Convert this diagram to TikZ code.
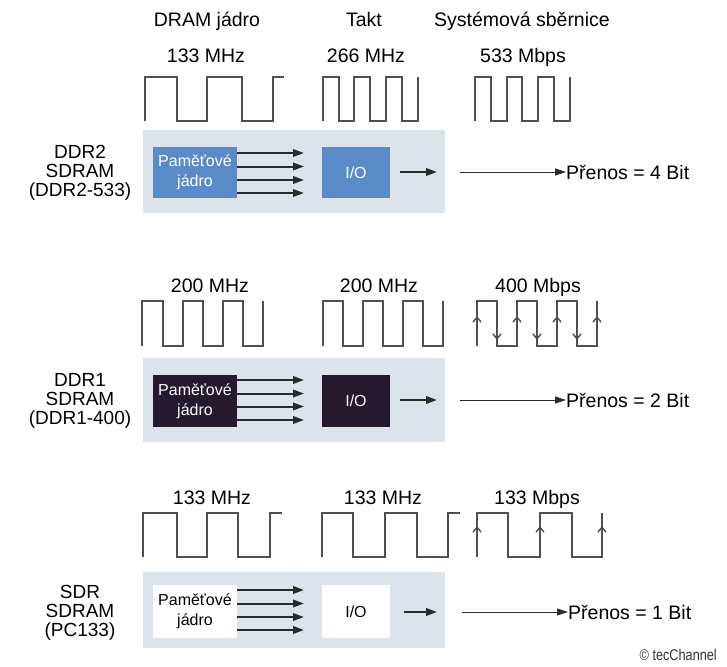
\documentclass[tikz,border=0pt]{standalone}
\usepackage{fontspec}
\setmainfont{Liberation Sans}
\usepackage{graphicx}
\usetikzlibrary{arrows.meta}
\definecolor{boxgray}{HTML}{DDE3EA}
\definecolor{coreblue}{HTML}{5B8BC7}
\definecolor{coredark}{HTML}{24192F}
\definecolor{wavegray}{HTML}{505050}
\definecolor{arrowdark}{HTML}{2A2A2A}
\begin{document}
\begin{tikzpicture}[x=1pt,y=-1pt,
  lbl/.style={font=\fontsize{19.5}{19}\selectfont, inner sep=0pt, text height=14pt, text depth=0pt},
  side/.style={font=\fontsize{19}{19}\selectfont, align=center, inner sep=0pt},
  panel/.style={fill=boxgray, draw=none, inner sep=0pt, minimum width=302pt},
  corebox/.style={draw=none, inner sep=0pt, minimum width=84pt, font=\fontsize{16}{20}\selectfont, align=center},
  iobox/.style={draw=none, inner sep=0pt, minimum width=68pt, font=\fontsize{16}{19}\selectfont},
  wave/.style={draw=wavegray, line width=2.4pt, line join=miter},
  edgearrow/.style={draw=wavegray, line width=1.4pt, -{Straight Barb[length=5pt,width=8pt,line width=1.4pt]}},
  bus/.style={draw=arrowdark, line width=2pt, -{Triangle[length=11pt,width=7.5pt]}},
  longbus/.style={draw=arrowdark, line width=0.9pt, -{Triangle[length=11pt,width=7pt]}},
  copy/.style={font=\fontsize{15.5}{15}\selectfont, inner sep=0pt, text=black!80}
]
\useasboundingbox[fill=white] (0,0) rectangle (727,666);

% ---------------- headers ----------------
\node[lbl] (h1) at (207,20) {DRAM jádro};
\node[lbl] (h2) at (364,20) {Takt};
\node[lbl] (h3) at (522,20) {Systémová sběrnice};

% ================= Row 1: DDR2 =================
\node[lbl] (f11) at (206,56) {133 MHz};
\node[lbl] (f12) at (366,56) {266 MHz};
\node[lbl] (f13) at (523,56) {533 Mbps};

\draw[wave] (145,121) -- (145,77) -- (177,77) -- (177,121) -- (207,121) -- (207,77) -- (242,77) -- (242,121) -- (273,121) -- (273,77) -- (284,77);
\draw[wave] (323,121) -- (323,77) -- (339,77) -- (339,121) -- (354,121) -- (354,77) -- (370,77) -- (370,121) -- (386,121) -- (386,77) -- (402,77) -- (402,121) -- (418,121) -- (418,77);
\draw[wave] (475,121) -- (475,77) -- (491,77) -- (491,121) -- (507,121) -- (507,77) -- (522,77) -- (522,121) -- (538,121) -- (538,77) -- (554,77) -- (554,121) -- (570,121) -- (570,77);

\node[panel, minimum height=83pt] (p1) at (294,171.5) {};
\node[corebox, fill=coreblue, text=white, minimum height=51pt] (c1) at (195,172.5) {Paměťové\\jádro};
\node[iobox, fill=coreblue, text=white, minimum height=51pt] (io1) at (356,172.5) {I/O};
\node[side] (s1) at (80,173) {DDR2\\SDRAM\\(DDR2-533)};
\node[lbl, anchor=west] (t1) at (566,172) {Přenos = 4 Bit};

\coordinate (a11) at (304,153);
\coordinate (a12) at (304,166.5);
\coordinate (a13) at (304,180);
\coordinate (a14) at (304,193);
\foreach \k in {a11,a12,a13,a14} \draw[bus] (c1.east |- \k) -- (\k);
\coordinate (sa1) at (437,172);
\coordinate (la1) at (460,172);
\draw[bus, shorten <=10pt] (io1.east |- sa1) -- (sa1);
\draw[longbus] (la1) -- (t1.west);

% ================= Row 2: DDR1 =================
\node[lbl] (f21) at (210,285) {200 MHz};
\node[lbl] (f22) at (379,285) {200 MHz};
\node[lbl] (f23) at (538,285) {400 Mbps};

\draw[wave] (142,346) -- (142,301) -- (163,301) -- (163,346) -- (183,346) -- (183,301) -- (203,301) -- (203,346) -- (223,346) -- (223,301) -- (243,301) -- (243,346) -- (263,346) -- (263,301);
\draw[wave] (323,346) -- (323,301) -- (343,301) -- (343,346) -- (363,346) -- (363,301) -- (383,301) -- (383,346) -- (403,346) -- (403,301) -- (423,301) -- (423,346) -- (443,346) -- (443,301);
\draw[wave] (477,346) -- (477,301) -- (497,301) -- (497,346) -- (517,346) -- (517,301) -- (537,301) -- (537,346) -- (557,346) -- (557,301) -- (577,301) -- (577,346) -- (597,346) -- (597,301);
\foreach \x in {477,517,557,597} \draw[edgearrow] (\x,346) -- (\x,316);
\foreach \x in {497,537,577} \draw[edgearrow] (\x,301) -- (\x,340);

\node[panel, minimum height=84pt] (p2) at (294,400) {};
\node[corebox, fill=coredark, text=white, minimum height=52pt] (c2) at (195,401) {Paměťové\\jádro};
\node[iobox, fill=coredark, text=white, minimum height=52pt] (io2) at (356,401) {I/O};
\node[side] (s2) at (80,401) {DDR1\\SDRAM\\(DDR1-400)};
\node[lbl, anchor=west] (t2) at (566,400) {Přenos = 2 Bit};

\coordinate (a21) at (304,380);
\coordinate (a22) at (304,393.5);
\coordinate (a23) at (304,406.5);
\coordinate (a24) at (304,420);
\foreach \k in {a21,a22,a23,a24} \draw[bus] (c2.east |- \k) -- (\k);
\coordinate (sa2) at (437,400);
\coordinate (la2) at (460,400);
\draw[bus, shorten <=10pt] (io2.east |- sa2) -- (sa2);
\draw[longbus] (la2) -- (t2.west);

% ================= Row 3: SDR =================
\node[lbl] (f31) at (212,497) {133 MHz};
\node[lbl] (f32) at (383,497) {133 MHz};
\node[lbl] (f33) at (537,497) {133 Mbps};

\draw[wave] (143,557) -- (143,513) -- (177,513) -- (177,557) -- (207,557) -- (207,513) -- (238,513) -- (238,557) -- (270,557) -- (270,513) -- (282,513);
\draw[wave] (322,557) -- (322,513) -- (353,513) -- (353,557) -- (385,557) -- (385,513) -- (417,513) -- (417,557) -- (448,557) -- (448,513) -- (460,513);
\draw[wave] (477,557) -- (477,513) -- (508,513) -- (508,557) -- (540,557) -- (540,513) -- (572,513) -- (572,557) -- (602,557) -- (602,513);
\foreach \x in {477,540,602} \draw[edgearrow] (\x,557) -- (\x,526);

\node[panel, minimum height=76pt] (p3) at (294,610) {};
\node[corebox, fill=white, text=black, minimum height=53pt] (c3) at (195,611.5) {Paměťové\\jádro};
\node[iobox, fill=white, text=black, minimum height=53pt] (io3) at (356,611.5) {I/O};
\node[side] (s3) at (80,613) {SDR\\SDRAM\\(PC133)};
\node[lbl, anchor=west] (t3) at (568,612) {Přenos = 1 Bit};

\coordinate (a31) at (304,590);
\coordinate (a32) at (304,603.5);
\coordinate (a33) at (304,617);
\coordinate (a34) at (304,630);
\foreach \k in {a31,a32,a33,a34} \draw[bus] (c3.east |- \k) -- (\k);
\coordinate (sa3) at (437,612);
\coordinate (la3) at (462,612);
\draw[bus, shorten <=14pt] (io3.east |- sa3) -- (sa3);
\draw[longbus] (la3) -- (t3.west);

\node[copy, anchor=east] (cp) at (717,655) {\scalebox{0.82}[1]{© tecChannel}};
\end{tikzpicture}
\end{document}
